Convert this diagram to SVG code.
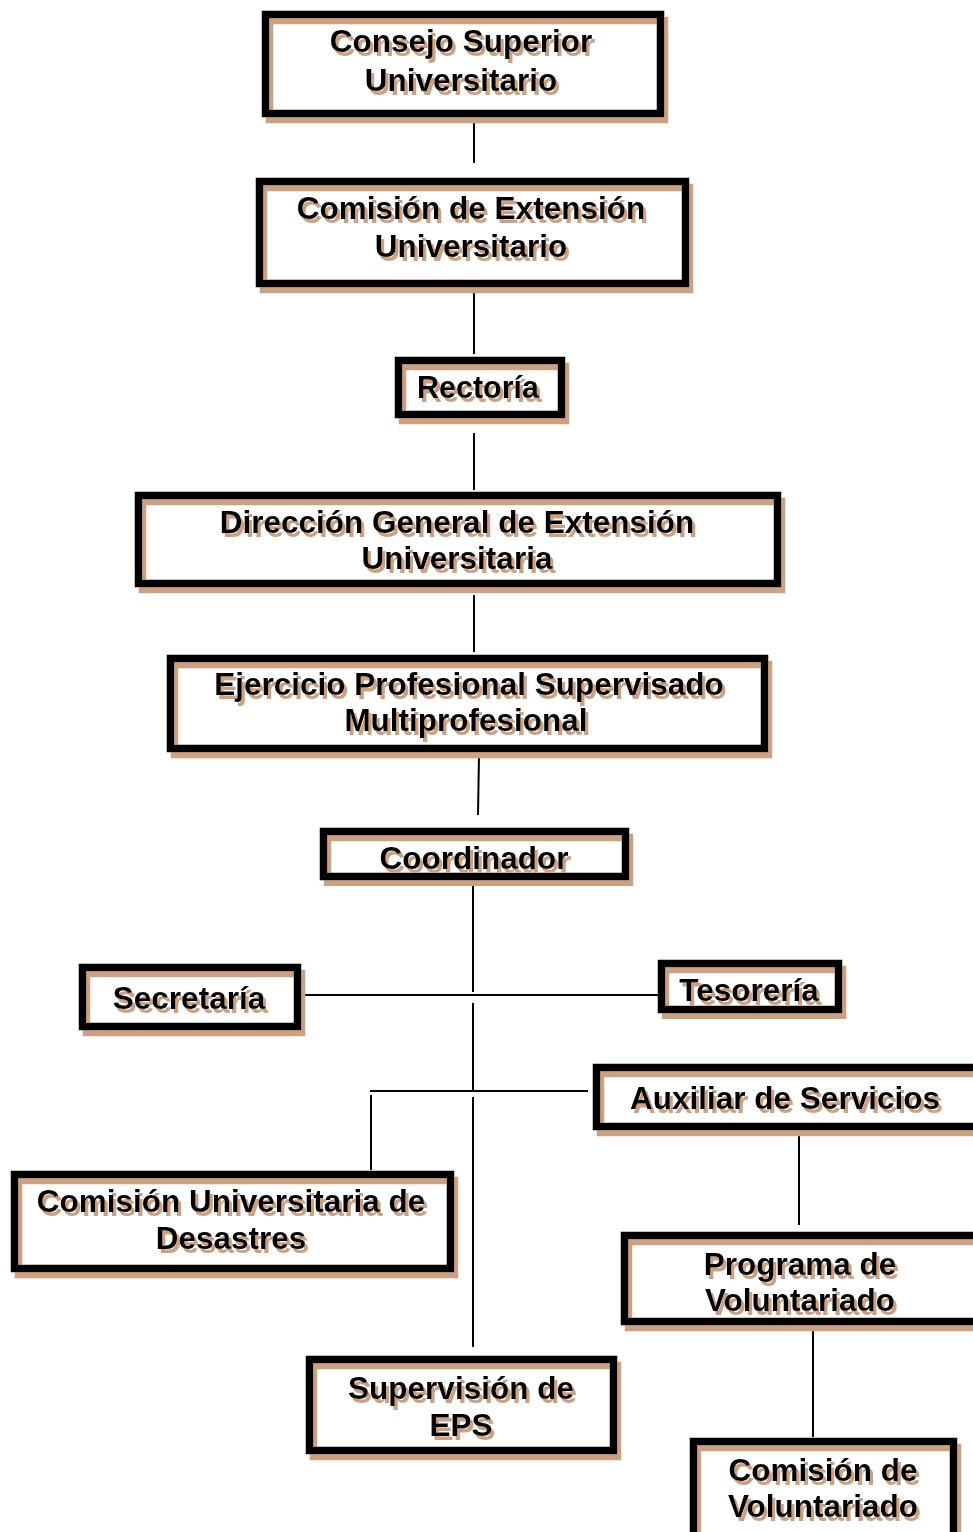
<svg xmlns="http://www.w3.org/2000/svg" width="973" height="1532" viewBox="0 0 973 1532">
<style>
.bg{fill:#ffffff;stroke:none}
.bx{fill:none;stroke:#000000;stroke-width:7.5;filter:url(#fsh)}
.t{font-family:"Liberation Sans",Arial,sans-serif;font-weight:bold;font-size:31.5px;fill:#000000;text-anchor:middle;filter:url(#tsh)}
.c{fill:none;stroke:#000000;stroke-width:2}
</style>
<defs>
<filter id="fsh" x="-5%" y="-10%" width="115%" height="130%">
<feFlood flood-color="#cca080" result="f"/>
<feComposite in="f" in2="SourceAlpha" operator="in" result="s"/>
<feOffset in="s" dx="4" dy="6" result="o"/>
<feMerge><feMergeNode in="o"/><feMergeNode in="SourceGraphic"/></feMerge>
</filter>
<filter id="tsh" x="-5%" y="-20%" width="115%" height="150%">
<feFlood flood-color="#cca080" result="f"/>
<feComposite in="f" in2="SourceAlpha" operator="in" result="s"/>
<feOffset in="s" dx="3" dy="4" result="o"/>
<feMerge><feMergeNode in="o"/><feMergeNode in="SourceGraphic"/></feMerge>
</filter>
</defs>
<rect x="0" y="0" width="973" height="1532" fill="#ffffff"/>
<g id="connectors">
<path class="c" d="M474 118V163"/>
<path class="c" d="M474 293V354"/>
<path class="c" d="M474 433V490"/>
<path class="c" d="M474 595V652"/>
<path class="c" d="M479 755L478 815"/>
<path class="c" d="M473 882V992"/>
<path class="c" d="M301 995H658"/>
<path class="c" d="M473 1003V1090"/>
<path class="c" d="M370 1091H588"/>
<path class="c" d="M371 1095V1170"/>
<path class="c" d="M473 1097V1347"/>
<path class="c" d="M799 1135V1225"/>
<path class="c" d="M813 1325V1437"/>
</g>
<g id="n1"><rect class="bg" x="265.5" y="14.5" width="395" height="99"/><rect class="bx" x="265.5" y="14.5" width="395" height="99"/><text class="t" x="461" y="52">Consejo Superior</text><text class="t" x="461" y="91">Universitario</text></g>
<g id="n2"><rect class="bg" x="259.5" y="181.5" width="426" height="102"/><rect class="bx" x="259.5" y="181.5" width="426" height="102"/><text class="t" x="471" y="219">Comisión de Extensión</text><text class="t" x="471" y="257">Universitario</text></g>
<g id="n3"><rect class="bg" x="398.5" y="360.5" width="163" height="54"/><rect class="bx" x="398.5" y="360.5" width="163" height="54"/><text class="t" x="478" y="398" style="font-size:30.5px">Rectoría</text></g>
<g id="n4"><rect class="bg" x="138.5" y="495.5" width="639" height="88"/><rect class="bx" x="138.5" y="495.5" width="639" height="88"/><text class="t" x="457" y="533">Dirección General de Extensión</text><text class="t" x="457" y="569">Universitaria</text></g>
<g id="n5"><rect class="bg" x="170.5" y="658.5" width="594" height="90"/><rect class="bx" x="170.5" y="658.5" width="594" height="90"/><text class="t" x="469" y="695">Ejercicio Profesional Supervisado</text><text class="t" x="466" y="731">Multiprofesional</text></g>
<g id="n6"><rect class="bg" x="323.5" y="831.5" width="302" height="45"/><rect class="bx" x="323.5" y="831.5" width="302" height="45"/><text class="t" x="474" y="869">Coordinador</text></g>
<g id="n7"><rect class="bg" x="82.5" y="967.5" width="215" height="59"/><rect class="bx" x="82.5" y="967.5" width="215" height="59"/><text class="t" x="189" y="1009">Secretaría</text></g>
<g id="n8"><rect class="bg" x="661.5" y="963.5" width="177" height="46"/><rect class="bx" x="661.5" y="963.5" width="177" height="46"/><text class="t" x="749" y="1001">Tesorería</text></g>
<g id="n9"><rect class="bg" x="596.5" y="1067.5" width="400" height="59"/><rect class="bx" x="596.5" y="1067.5" width="400" height="59"/><text class="t" x="785" y="1109">Auxiliar de Servicios</text></g>
<g id="n10"><rect class="bg" x="14.5" y="1174.5" width="436" height="94"/><rect class="bx" x="14.5" y="1174.5" width="436" height="94"/><text class="t" x="231" y="1212">Comisión Universitaria de</text><text class="t" x="231" y="1249">Desastres</text></g>
<g id="n11"><rect class="bg" x="624.5" y="1235.5" width="370" height="86"/><rect class="bx" x="624.5" y="1235.5" width="370" height="86"/><text class="t" x="800" y="1275">Programa de</text><text class="t" x="800" y="1311">Voluntariado</text></g>
<g id="n12"><rect class="bg" x="309.5" y="1359.5" width="304" height="91"/><rect class="bx" x="309.5" y="1359.5" width="304" height="91"/><text class="t" x="461" y="1399">Supervisión de</text><text class="t" x="461" y="1436">EPS</text></g>
<g id="n13"><rect class="bg" x="693.5" y="1441.5" width="260" height="110"/><rect class="bx" x="693.5" y="1441.5" width="260" height="110"/><text class="t" x="823" y="1481">Comisión de</text><text class="t" x="823" y="1517">Voluntariado</text></g>
</svg>
